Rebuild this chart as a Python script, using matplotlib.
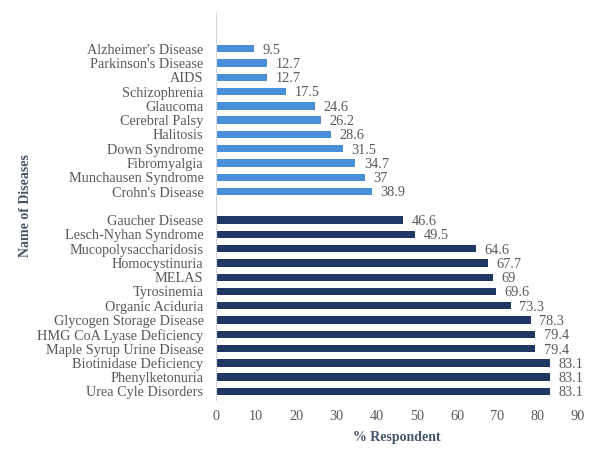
import matplotlib
matplotlib.use("Agg")
import matplotlib.pyplot as plt

group1_names = ["Alzheimer's Disease", "Parkinson's Disease", "AIDS", "Schizophrenia",
                "Glaucoma", "Cerebral Palsy", "Halitosis", "Down Syndrome",
                "Fibromyalgia", "Munchausen Syndrome", "Crohn's Disease"]
group1_values = [9.5, 12.7, 12.7, 17.5, 24.6, 26.2, 28.6, 31.5, 34.7, 37, 38.9]

group2_names = ["Gaucher Disease", "Lesch-Nyhan Syndrome", "Mucopolysaccharidosis",
                "Homocystinuria", "MELAS", "Tyrosinemia", "Organic Aciduria",
                "Glycogen Storage Disease", "HMG CoA Lyase Deficiency",
                "Maple Syrup Urine Disease", "Biotinidase Deficiency",
                "Phenylketonuria", "Urea Cyle Disorders"]
group2_values = [46.6, 49.5, 64.6, 67.7, 69, 69.6, 73.3, 78.3, 79.4, 79.4, 83.1, 83.1, 83.1]

x_ticks = [0, 10, 20, 30, 40, 50, 60, 70, 80, 90]

plt.rcParams['font.family'] = ['Liberation Serif', 'DejaVu Serif']

fig = plt.figure(figsize=(6, 4.58), dpi=100)
ax = fig.add_axes([0.36, 0.1266, 0.603, 0.848])

n2 = len(group2_names)
n1 = len(group1_names)
pos2 = list(range(n2 - 1, -1, -1))
pos1 = [n2 + 1 + (n1 - 1 - i) for i in range(n1)]

c1 = '#4A8FD9'
c2 = '#1F3864'
h = 0.52
ax.barh(pos1, group1_values, height=h, color=c1)
ax.barh(pos2, group2_values, height=h, color=c2)

txt = '#595959'
fs = 10.3
for p, v in zip(pos1 + pos2, group1_values + group2_values):
    ax.annotate(f"{v:g}", (v, p), xytext=(6, -1), textcoords='offset points',
                va='center', ha='left', fontsize=fs, color=txt)

ax.set_yticks(pos1 + pos2)
ax.set_yticklabels(group1_names + group2_names, fontsize=fs, color=txt)
ax.set_xticks(x_ticks)
ax.set_xticklabels([str(t) for t in x_ticks], fontsize=fs, color=txt)
ax.set_xlim(0, 90)
ax.set_ylim(-0.6, n2 + n1 + 2.6)

for s in ['top', 'right', 'bottom']:
    ax.spines[s].set_visible(False)
ax.spines['left'].set_color('#D9D9D9')
ax.tick_params(axis='y', length=0, pad=9)
ax.tick_params(axis='x', length=0, pad=7)

ax.set_xlabel('% Respondent', fontsize=10, fontweight='bold', color='#44546A', labelpad=6)
ax.set_ylabel('Name of Diseases', fontsize=10, fontweight='bold', color='#44546A')
ax.yaxis.set_label_coords(-0.508, 0.5)

fig.savefig('out.png', dpi=100)
